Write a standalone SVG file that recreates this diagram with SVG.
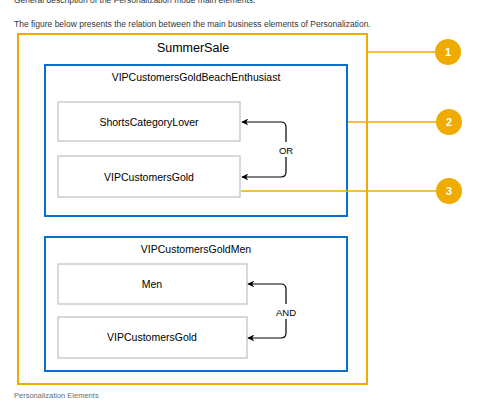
<svg xmlns="http://www.w3.org/2000/svg" width="485" height="412" viewBox="0 0 485 412">
<defs>
<style>
.intro{font-family:"Liberation Sans",Arial,sans-serif;font-size:8.5px;fill:#32363a}
.cap{font-family:"Liberation Sans",Arial,sans-serif;font-size:7.5px;fill:#6a6d70}
.outer{fill:none;stroke:#F0AB00;stroke-width:2}
.group{fill:none;stroke:#0A6ED1;stroke-width:2}
.seg{fill:#fff;stroke:#cccccc;stroke-width:1.5}
.t1{font-family:"Liberation Sans",Arial,sans-serif;font-size:12.5px;fill:#000;text-anchor:middle}
.t2{font-family:"Liberation Sans",Arial,sans-serif;font-size:10.5px;fill:#000;text-anchor:middle}
.t3{font-family:"Liberation Sans",Arial,sans-serif;font-size:10.5px;fill:#000;text-anchor:middle}
.lbl{font-family:"Liberation Sans",Arial,sans-serif;font-size:9.5px;fill:#000;text-anchor:middle}
.conn{fill:none;stroke:#000;stroke-width:1.2}
.call{fill:none;stroke:#F0AB00;stroke-width:1.5}
.badge{fill:#F0AB00}
.num{font-family:"Liberation Sans",Arial,sans-serif;font-size:11px;font-weight:bold;fill:#fff;text-anchor:middle}
</style>
<marker id="arr" viewBox="0 0 10 10" refX="9" refY="5" markerWidth="7" markerHeight="7" orient="auto-start-reverse" markerUnits="userSpaceOnUse">
<path d="M0,0 L10,5 L0,10 L3,5 Z" fill="#000"/>
</marker>
</defs>
<text class="intro" x="14" y="3">General description of the Personalization mode main elements.</text>
<text class="intro" x="14" y="27">The figure below presents the relation between the main business elements of Personalization.</text>

<g id="SummerSale">
<rect class="outer" x="18" y="34" width="349" height="350"/>
<text class="t1" x="193" y="52">SummerSale</text>
</g>
<g id="VIPCustomersGoldBeachEnthusiast">
<rect class="group" x="45" y="65" width="302" height="151"/>
<text class="t2" x="196" y="81">VIPCustomersGoldBeachEnthusiast</text>
</g>
<g id="ShortsCategoryLover">
<rect class="seg" x="58" y="102" width="182" height="39"/>
<text class="t3" x="149" y="126">ShortsCategoryLover</text>
</g>
<g id="VIPCustomersGold1">
<rect class="seg" x="58" y="156" width="182" height="41"/>
<text class="t3" x="149" y="181">VIPCustomersGold</text>
</g>
<g id="VIPCustomersGoldMen">
<rect class="group" x="45" y="237" width="302" height="134"/>
<text class="t2" x="196" y="253">VIPCustomersGoldMen</text>
</g>
<g id="Men">
<rect class="seg" x="58" y="264" width="189" height="40"/>
<text class="t3" x="152" y="288">Men</text>
</g>
<g id="VIPCustomersGold2">
<rect class="seg" x="58" y="317" width="189" height="41"/>
<text class="t3" x="152" y="341">VIPCustomersGold</text>
</g>

<g id="connectors">
<path class="conn" d="M286,142 V127 Q286,122 281,122 H242" marker-end="url(#arr)"/>
<path class="conn" d="M286,157 V172 Q286,177 281,177 H242" marker-end="url(#arr)"/>
<text class="lbl" x="286" y="153.5">OR</text>
<path class="conn" d="M286,304 V289 Q286,284 281,284 H248" marker-end="url(#arr)"/>
<path class="conn" d="M286,319 V333 Q286,338 281,338 H248" marker-end="url(#arr)"/>
<text class="lbl" x="286" y="315.5">AND</text>
<line class="call" x1="368" y1="52" x2="436" y2="52"/>
<line class="call" x1="348" y1="122" x2="436" y2="122"/>
<line class="call" x1="241" y1="191" x2="436" y2="191"/>
</g>

<g id="badge1"><circle class="badge" cx="448" cy="52" r="13"/><text class="num" x="448" y="56">1</text></g>
<g id="badge2"><circle class="badge" cx="449" cy="122" r="13"/><text class="num" x="449" y="126">2</text></g>
<g id="badge3"><circle class="badge" cx="449" cy="191" r="13"/><text class="num" x="449" y="195">3</text></g>

<text class="cap" x="14" y="398">Personalization Elements</text>
</svg>
